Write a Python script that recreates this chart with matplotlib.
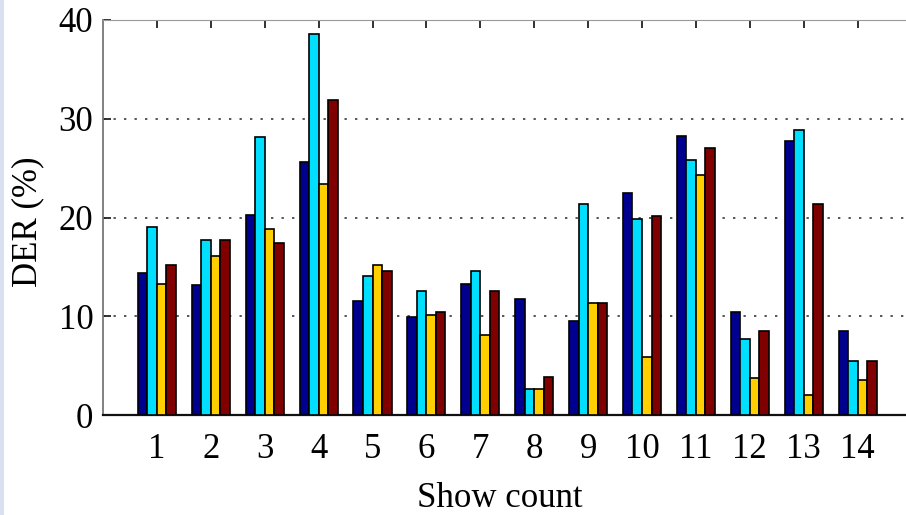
import matplotlib
matplotlib.use("Agg")
import matplotlib.pyplot as plt
from matplotlib.patches import Rectangle
import numpy as np

# Diarization error rate per show, four systems
shows = list(range(1, 15))
der_sys1 = [14.4, 13.2, 20.3, 25.6, 11.5, 9.9, 13.3, 11.7, 9.5, 22.5, 28.3, 10.4, 27.7, 8.5]
der_sys2 = [19.0, 17.7, 28.2, 38.6, 14.1, 12.6, 14.6, 2.6, 21.4, 19.8, 25.8, 7.7, 28.9, 5.5]
der_sys3 = [13.3, 16.1, 18.8, 23.4, 15.2, 10.1, 8.1, 2.6, 11.3, 5.9, 24.3, 3.7, 2.0, 3.5]
der_sys4 = [15.2, 17.7, 17.4, 31.9, 14.6, 10.4, 12.6, 3.8, 11.3, 20.2, 27.0, 8.5, 21.4, 5.5]
y_ticks = [0, 10, 20, 30, 40]

series = [der_sys1, der_sys2, der_sys3, der_sys4]
colors = [(0, 0, 0.5625), (0, 0.875, 1.0), (1.0, 0.8125, 0), (0.5, 0, 0)]

plt.rcParams["font.family"] = ["Liberation Serif", "DejaVu Serif"]

W, H = 906, 515
fig = plt.figure(figsize=(W / 100, H / 100), dpi=100)
fig.patch.set_facecolor("white")
fig.patches.append(Rectangle((0, 0), 4 / W, 1, transform=fig.transFigure,
                             facecolor="#d9e0ef", edgecolor="none", zorder=0))

x_left, x_right = 103, 911.5
y_top, y_bot = 20, 415
ax = fig.add_axes([x_left / W, (H - y_bot) / H, (x_right - x_left) / W, (y_bot - y_top) / H])

x = np.array(shows, dtype=float)
bw = 0.177
for i, (vals, c) in enumerate(zip(series, colors)):
    ax.bar(x + (i - 1.5) * bw, vals, width=bw, color=c, edgecolor="black",
           linewidth=1.2, zorder=3)

ax.set_xlim(0, 15)
ax.set_ylim(0, 40)
ax.set_xticks(shows)
ax.set_yticks(y_ticks)
ax.set_xticklabels([str(s) for s in shows])

ax.yaxis.grid(True, color="#555555", linestyle=(0, (1.2, 4.2)), linewidth=1.4, zorder=1)
ax.xaxis.grid(False)

ax.spines["left"].set_color("#777777")
ax.spines["left"].set_linewidth(1.3)
ax.spines["bottom"].set_color("#111111")
ax.spines["bottom"].set_linewidth(1.6)
ax.spines["top"].set_color("#999999")
ax.spines["top"].set_linewidth(0.8)
ax.spines["right"].set_visible(False)

ax.tick_params(axis="both", direction="in", length=6, width=1.3, color="#222222",
               labelsize=25, top=True, right=False)
ax.tick_params(axis="x", pad=13)
ax.tick_params(axis="y", pad=7)

fig.text(28 / W, 1 - 222 / H, "DER (%)", rotation=90, ha="center", va="center",
         fontsize=25)
fig.text(500 / W, 1 - 507 / H, "Show count", ha="center", va="baseline", fontsize=25)

fig.savefig("out.png", dpi=100)
